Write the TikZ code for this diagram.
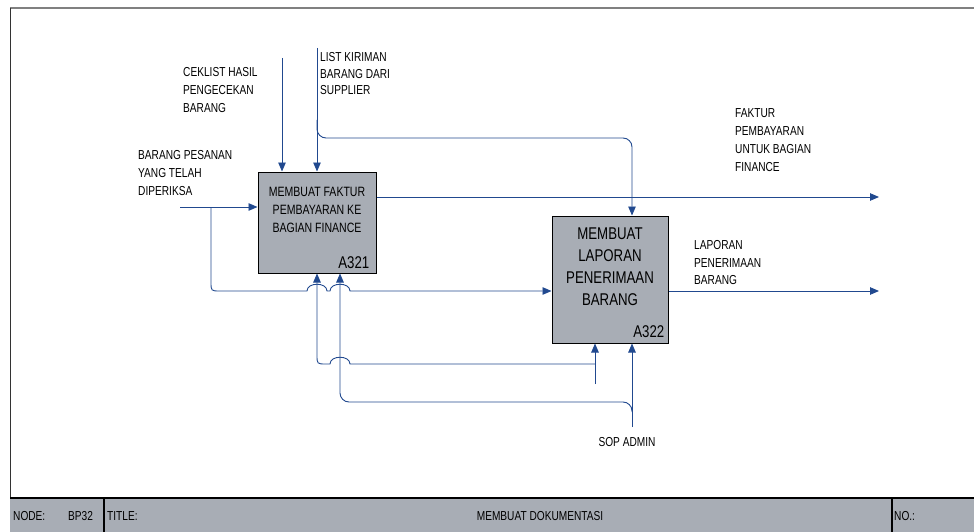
\documentclass[tikz,border=0pt]{standalone}
\usepackage{fontspec}
\setmainfont{Liberation Sans}[FakeStretch=0.78]
\usepackage{tikz}
\usetikzlibrary{arrows.meta, positioning}
\definecolor{FlowBlue} {HTML}{21498F}
\definecolor{BoxGray}  {HTML}{A8ADB5}
\definecolor{FrameGray}{HTML}{808080}

\begin{document}
\begin{tikzpicture}[
  x=1pt, y=-1pt,
  every node/.style={font=\fontsize{13}{18}\selectfont, inner sep=0pt},
  actbox/.style={draw=black, line width=1pt, fill=BoxGray},
  boxid/.style={font=\fontsize{17}{18}\selectfont},
  lbl/.style={align=left, anchor=north west},
  flow/.style={draw=FlowBlue, line width=0.9pt},
  arr/.style={flow, -{Triangle[length=9pt, width=7.5pt]}},
]
\useasboundingbox (0,0) rectangle (974,532);

% Frame and title bar
\draw[FrameGray, line width=2pt] (10,8) -- (974,8);
\draw[black!80, line width=0.8pt] (10,8) -- (10,532);
\fill[BoxGray] (10,498) rectangle (974,532);
\draw[black, line width=1.2pt] (10,498) -- (974,498);
\foreach \x in {104, 892}
  \draw[black, line width=1.4pt] (\x,498) -- (\x,532);
\node[anchor=base west] (nodelbl) at (13,520) {NODE:};
\node[anchor=base west] (nodeno)  at (68,520) {BP32};
\node[anchor=base west] (titlelbl) at (107,520) {TITLE:};
\node[anchor=base] (title) at (540,520) {MEMBUAT DOKUMENTASI};
\node[anchor=base west] (nolbl) at (894,520) {NO.:};

% Activity boxes
\node[actbox, minimum width=118pt, minimum height=101pt] (a321) at (317,222.5) {};
\node[align=center, font=\fontsize{13.5}{18}\selectfont, below=15.3pt of a321.north] (a321txt)
  {MEMBUAT FAKTUR\\PEMBAYARAN KE\\BAGIAN FINANCE};
\node[boxid, above left=5pt and 7pt of a321.south east] (a321id) {A321};

\node[actbox, minimum width=116pt, minimum height=127pt] (a322) at (610,279.5) {};
\node[align=center, font=\fontsize{17}{22}\selectfont, below=11.8pt of a322.north] (a322txt)
  {MEMBUAT\\LAPORAN\\PENERIMAAN\\BARANG};
\node[boxid, above left=6pt and 4pt of a322.south east] (a322id) {A322};

% Labels
\node[lbl] (ceklist) at (183,67.7) {CEKLIST HASIL\\PENGECEKAN\\BARANG};
\node[lbl, font=\fontsize{13}{16.5}\selectfont] (listkirim) at (320,52.7) {LIST KIRIMAN\\BARANG DARI\\SUPPLIER};
\node[lbl] (brgpesan) at (138,150.7) {BARANG PESANAN\\YANG TELAH\\DIPERIKSA};
\node[lbl] (faktur) at (735,108.7) {FAKTUR\\PEMBAYARAN\\UNTUK BAGIAN\\FINANCE};
\node[lbl, font=\fontsize{13}{17.5}\selectfont] (laporan) at (694,240.7) {LAPORAN\\PENERIMAAN\\BARANG};
\node[anchor=north] (sop) at (627,437.7) {SOP ADMIN};

% Free ends
\coordinate (inBrg)     at (180,207);
\coordinate (tapBrg)    at (211,207);
\coordinate (ctlCek)    at (282,58);
\coordinate (ctlList)   at (317,48);
\coordinate (tapList)   at (317,120);
\coordinate (bendList)  at (632,138);
\coordinate (outFaktur) at (879,197);
\coordinate (outLap)    at (879,291);
\coordinate (mechA)     at (595,384);
\coordinate (mechB)     at (632,427);
\coordinate (fbA)       at (595,364);
\coordinate (fbB)       at (632,412);
\coordinate (fbBx)      at (340,402);

% Inputs and controls
\draw[arr] (inBrg) -- (inBrg -| a321.west);
\draw[arr] (ctlCek) -- (ctlCek |- a321.north);
\draw[arr] (ctlList) -- (ctlList |- a321.north);
\draw[arr, rounded corners=9pt] (tapList) |- (bendList) -- (bendList |- a322.north);

% Outputs
\draw[arr] (outFaktur -| a321.east) -- (outFaktur);
\draw[arr] (outLap -| a322.east) -- (outLap);

% Barang pesanan on to A322 (hops over the feedback lines)
\draw[arr] (tapBrg) -- (211,282) .. controls (211,291) .. (220,291) -- (307,291)
  .. controls (307,282) and (327,282) .. (327,291) -- (330,291)
  .. controls (330,282) and (350,282) .. (350,291) -- (outLap -| a322.west);

% Mechanisms
\draw[arr] (mechA) -- (mechA |- a322.south);
\draw[arr] (mechB) -- (mechB |- a322.south);
\draw[arr] (fbA) -- (350,364) .. controls (350,355) and (330,355) .. (330,364)
  -- (326,364) .. controls (317,364) .. (317,355) -- (ctlList |- a321.south);
\draw[arr, rounded corners=9pt] (fbB) |- (fbBx) -- (fbBx |- a321.south);

\end{tikzpicture}
\end{document}
